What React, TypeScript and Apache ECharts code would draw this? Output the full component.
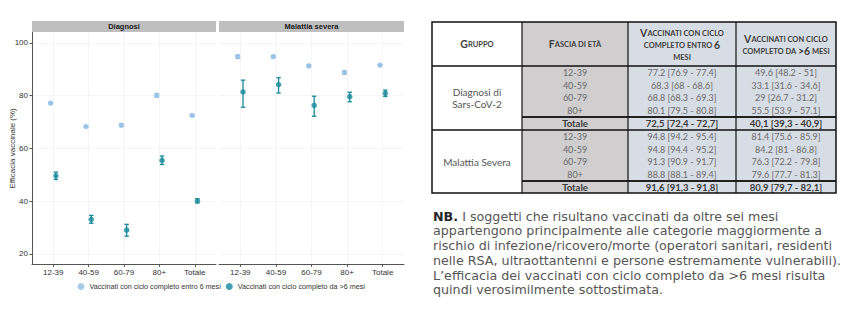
import React, { useEffect, useRef } from "react";
import * as echarts from "echarts";

// ---------- DATA ----------
const ageGroups = ["12-39", "40-59", "60-79", "80+", "Totale"];
const panelTitles = ["Diagnosi", "Malattia severa"];
const seriesNames = [
  "Vaccinati con ciclo completo entro 6 mesi",
  "Vaccinati con ciclo completo da >6 mesi",
];
const yTicks = [20, 40, 60, 80, 100];

const diagWithin = [77.2, 68.3, 68.8, 80.1, 72.5];
const diagWithinLo = [76.9, 68, 68.3, 79.5, 72.4];
const diagWithinHi = [77.4, 68.6, 69.3, 80.8, 72.7];
const diagOver = [49.6, 33.1, 29, 55.5, 40.1];
const diagOverLo = [48.2, 31.6, 26.7, 53.9, 39.3];
const diagOverHi = [51, 34.6, 31.2, 57.1, 40.9];

const sevWithin = [94.8, 94.8, 91.3, 88.8, 91.6];
const sevWithinLo = [94.2, 94.4, 90.9, 88.1, 91.3];
const sevWithinHi = [95.4, 95.2, 91.7, 89.4, 91.8];
const sevOver = [81.4, 84.2, 76.3, 79.6, 80.9];
const sevOverLo = [75.6, 81, 72.2, 77.7, 79.7];
const sevOverHi = [85.9, 86.8, 79.8, 81.3, 82.1];

const tableGroups = ["Diagnosi di\nSars-CoV-2", "Malattia Severa"];
const headerLines = [
  ["Gruppo"],
  ["Fascia di età"],
  ["Vaccinati con ciclo", "completo entro 6", "mesi"],
  ["Vaccinati con ciclo", "completo da >6 mesi"],
];
const noteLead = "NB.";
const noteLines = [
  "I soggetti che risultano vaccinati da oltre sei mesi",
  "appartengono principalmente alle categorie maggiormente a",
  "rischio di infezione/ricovero/morte (operatori sanitari, residenti",
  "nelle RSA, ultraottantenni e persone estremamente vulnerabili).",
  "L’efficacia dei vaccinati con ciclo completo da >6 mesi risulta",
  "quindi verosimilmente sottostimata.",
];

// ---------- STYLE ----------
const LIGHT = "#93bfe6";
const DARK = "#178a9b";
const CHART_FONT = "'Liberation Sans', Arial, sans-serif";
const TABLE_FONT = "Lato, 'Open Sans', sans-serif";
const NOTE_FONT = "'DejaVu Sans', sans-serif";
const DODGE = 0.075;

function smallCaps(s: string): string {
  let out = "";
  let cur = "";
  let type = "";
  for (const ch of s) {
    const lower = ch !== ch.toUpperCase() || ch === " ";
    const t = lower ? "s" : "b";
    if (type && t !== type) {
      out += `{${type}|${cur}}`;
      cur = "";
    }
    type = t;
    cur += ch.toUpperCase();
  }
  if (cur) out += `{${type}|${cur}}`;
  return out;
}

const fmtCI = (v: number, lo: number, hi: number, comma: boolean) => {
  const s = `${v} [${lo} - ${hi}]`;
  return comma ? s.replace(/\./g, ",") : s;
};

function buildTable(): any[] {
  const els: any[] = [];
  const colX = [432, 522, 628, 736, 836];
  const top = 22;
  const headerBottom = 66;
  const groupBounds = [
    [66, 117, 130],
    [130, 181, 193],
  ];
  const bottom = 193;
  const cx = (i: number) => (colX[i] + colX[i + 1]) / 2;

  els.push({ type: "rect", shape: { x: colX[1], y: top, width: colX[2] - colX[1], height: bottom - top }, style: { fill: "#d0cece" } });
  els.push({ type: "rect", shape: { x: colX[2], y: top, width: colX[4] - colX[2], height: bottom - top }, style: { fill: "#d7dde5" } });

  const hTop = [44, 44, 33, 39];
  headerLines.forEach((lines, i) => {
    lines.forEach((ln, j) => {
      els.push({
        type: "text",
        x: cx(i),
        y: hTop[i] + j * 12,
        style: {
          text: smallCaps(ln),
          align: "center",
          verticalAlign: "middle",
          textAlign: "center",
          textVerticalAlign: "middle",
          fill: "#404040",
          rich: {
            b: { fontSize: 10.5, fontWeight: 700, fontFamily: TABLE_FONT, fill: "#404040", lineHeight: 11 },
            s: { fontSize: 7.5, fontWeight: 700, fontFamily: TABLE_FONT, fill: "#404040", lineHeight: 11 },
          },
        },
      });
    });
  });

  const groupsData = [
    [diagWithin, diagWithinLo, diagWithinHi, diagOver, diagOverLo, diagOverHi],
    [sevWithin, sevWithinLo, sevWithinHi, sevOver, sevOverLo, sevOverHi],
  ];

  groupsData.forEach((g, gi) => {
    const [gs, gt, ge] = groupBounds[gi];
    const rowH = (gt - gs) / 4;
    els.push({
      type: "text",
      x: cx(0),
      y: (gs + ge) / 2,
      style: {
        text: tableGroups[gi],
        align: "center",
        verticalAlign: "middle",
        textAlign: "center",
        textVerticalAlign: "middle",
        fontFamily: TABLE_FONT,
        fontSize: 10,
        lineHeight: 12,
        fill: "#555555",
      },
    });
    ageGroups.forEach((ag, ri) => {
      const isTot = ri === 4;
      const y = isTot ? (gt + ge) / 2 : gs + rowH * (ri + 0.5);
      const base = {
        align: "center",
        verticalAlign: "middle",
        textAlign: "center",
        textVerticalAlign: "middle",
        fontFamily: TABLE_FONT,
        fontSize: isTot ? 9.5 : 9,
        fontWeight: isTot ? 700 : 400,
        fill: isTot ? "#3a3a3a" : "#6a6a6a",
      };
      els.push({ type: "text", x: cx(1), y, style: { ...base, text: ag } });
      els.push({ type: "text", x: cx(2), y, style: { ...base, text: fmtCI(g[0][ri], g[1][ri], g[2][ri], isTot) } });
      els.push({ type: "text", x: cx(3), y, style: { ...base, text: fmtCI(g[3][ri], g[4][ri], g[5][ri], isTot) } });
    });
    els.push({ type: "line", shape: { x1: colX[1], y1: gt, x2: colX[4], y2: gt }, style: { stroke: "#222", lineWidth: 2 } });
  });

  const line = (x1: number, y1: number, x2: number, y2: number, w: number) =>
    els.push({ type: "line", shape: { x1, y1, x2, y2 }, style: { stroke: "#111", lineWidth: w } });
  line(colX[0], headerBottom, colX[4], headerBottom, 1.5);
  line(colX[0], 130, colX[4], 130, 1.5);
  colX.slice(1, 4).forEach((x) => line(x, top, x, bottom, 1.2));
  els.push({
    type: "rect",
    shape: { x: colX[0], y: top, width: colX[4] - colX[0], height: bottom - top },
    style: { fill: "none", stroke: "#111", lineWidth: 1.5 },
  });
  return els;
}

function buildNote(): any[] {
  const text = noteLines
    .map((ln, i) => (i === 0 ? `{b|${noteLead}}{n| ${ln}}` : `{n|${ln}}`))
    .join("\n");
  return [
    {
      type: "text",
      x: 433,
      y: 208.6,
      style: {
        text,
        align: "left",
        verticalAlign: "top",
        textAlign: "left",
        textVerticalAlign: "top",
        lineHeight: 14.8,
        rich: {
          b: { fontFamily: NOTE_FONT, fontSize: 12.7, fontWeight: 700, fill: "#262626", lineHeight: 14.8 },
          n: { fontFamily: NOTE_FONT, fontSize: 12.7, fontWeight: 400, fill: "#555555", lineHeight: 14.8 },
        },
      },
    },
  ];
}

function buildStrips(grids: any[]): any[] {
  const els: any[] = [];
  grids.forEach((g, i) => {
    els.push({ type: "rect", shape: { x: g.left, y: 21, width: g.width, height: 11 }, style: { fill: "#bfbfbf" } });
    els.push({
      type: "text",
      x: g.left + g.width / 2,
      y: 26.5,
      style: {
        text: panelTitles[i],
        align: "center",
        verticalAlign: "middle",
        textAlign: "center",
        textVerticalAlign: "middle",
        fontFamily: CHART_FONT,
        fontSize: 7.5,
        fontWeight: 700,
        fill: "#1a1a1a",
      },
    });
  });
  return els;
}

const errorBar = (color: string) => (params: any, api: any) => {
  const x = api.value(0);
  const lo = api.coord([x, api.value(1)]);
  const hi = api.coord([x, api.value(2)]);
  const cap = 2.2;
  const st = { stroke: color, lineWidth: 1.3 };
  return {
    type: "group",
    children: [
      { type: "line", shape: { x1: lo[0], y1: lo[1], x2: hi[0], y2: hi[1] }, style: st },
      { type: "line", shape: { x1: lo[0] - cap, y1: lo[1], x2: lo[0] + cap, y2: lo[1] }, style: st },
      { type: "line", shape: { x1: hi[0] - cap, y1: hi[1], x2: hi[0] + cap, y2: hi[1] }, style: st },
    ],
  };
};

export default function App() {
  const ref = useRef<HTMLDivElement>(null);
  useEffect(() => {
    if (!ref.current) return;
    const chart = echarts.init(ref.current, undefined, { renderer: "svg" });
    const grids = [
      { left: 32, top: 32.4, width: 184, height: 232 },
      { left: 219, top: 32.4, width: 185, height: 232 },
    ];
    const catIdx = ageGroups.map((_, i) => i + 1);
    const panelData = [
      [diagWithin, diagWithinLo, diagWithinHi, diagOver, diagOverLo, diagOverHi],
      [sevWithin, sevWithinLo, sevWithinHi, sevOver, sevOverLo, sevOverHi],
    ];
    const series: any[] = [];
    panelData.forEach((d, pi) => {
      const [w, wl, wh, o, ol, oh] = d;
      series.push({
        type: "custom",
        xAxisIndex: pi,
        yAxisIndex: pi,
        renderItem: errorBar(LIGHT),
        encode: { x: 0, y: [1, 2] },
        data: w.map((_, i) => [catIdx[i] - DODGE, wl[i], wh[i]]),
        z: 2,
        silent: true,
      });
      series.push({
        type: "custom",
        xAxisIndex: pi,
        yAxisIndex: pi,
        renderItem: errorBar(DARK),
        encode: { x: 0, y: [1, 2] },
        data: o.map((_, i) => [catIdx[i] + DODGE, ol[i], oh[i]]),
        z: 2,
        silent: true,
      });
      series.push({
        type: "scatter",
        name: seriesNames[0],
        xAxisIndex: pi,
        yAxisIndex: pi,
        symbol: "circle",
        symbolSize: 5.5,
        itemStyle: { color: LIGHT },
        data: w.map((v, i) => [catIdx[i] - DODGE, v]),
        z: 3,
      });
      series.push({
        type: "scatter",
        name: seriesNames[1],
        xAxisIndex: pi,
        yAxisIndex: pi,
        symbol: "circle",
        symbolSize: 5.5,
        itemStyle: { color: DARK },
        data: o.map((v, i) => [catIdx[i] + DODGE, v]),
        z: 3,
      });
    });

    const option: any = {
      animation: false,
      backgroundColor: "#ffffff",
      textStyle: { fontFamily: CHART_FONT },
      grid: grids,
      xAxis: grids.map((_, i) => ({
        type: "value",
        gridIndex: i,
        min: 0.4,
        max: 5.6,
        axisLine: { show: true, lineStyle: { color: "#555", width: 1 } },
        axisTick: { show: true, length: 2.5, customValues: catIdx, lineStyle: { color: "#555" } },
        axisLabel: {
          show: true,
          customValues: catIdx,
          formatter: (v: number) => ageGroups[Math.round(v) - 1] ?? "",
          fontSize: 8,
          color: "#333",
          margin: 4,
        },
        splitLine: { show: true, lineStyle: { color: "#f2f2f2", width: 0.8 } },
      })),
      yAxis: grids.map((_, i) => ({
        type: "value",
        gridIndex: i,
        min: 16,
        max: 104,
        name: i === 0 ? "Efficacia vaccinale (%)" : "",
        nameLocation: "middle",
        nameGap: 16,
        nameMoveOverlap: false,
        nameTextStyle: { fontSize: 8, color: "#333" },
        axisLine: { show: i === 0, lineStyle: { color: "#555", width: 1 } },
        axisTick: { show: i === 0, length: 2.5, customValues: yTicks, lineStyle: { color: "#555" } },
        axisLabel: { show: i === 0, customValues: yTicks, fontSize: 8, color: "#333", margin: 4 },
        splitLine: { show: true, lineStyle: { color: "#f2f2f2", width: 0.8 } },
      })),
      legend: {
        data: seriesNames,
        left: 77.5,
        top: 283,
        icon: "circle",
        itemWidth: 7,
        itemHeight: 7,
        itemGap: 5,
        textStyle: { fontSize: 7.2, color: "#333", fontFamily: CHART_FONT },
        padding: 0,
      },
      series,
      graphic: [...buildStrips(grids), ...buildTable(), ...buildNote()],
    };
    chart.setOption(option);
    return () => chart.dispose();
  }, []);
  return (
    <div
      ref={ref}
      style={{ position: "fixed", left: 0, top: 0, width: 850, height: 324, background: "#fff" }}
    />
  );
}
